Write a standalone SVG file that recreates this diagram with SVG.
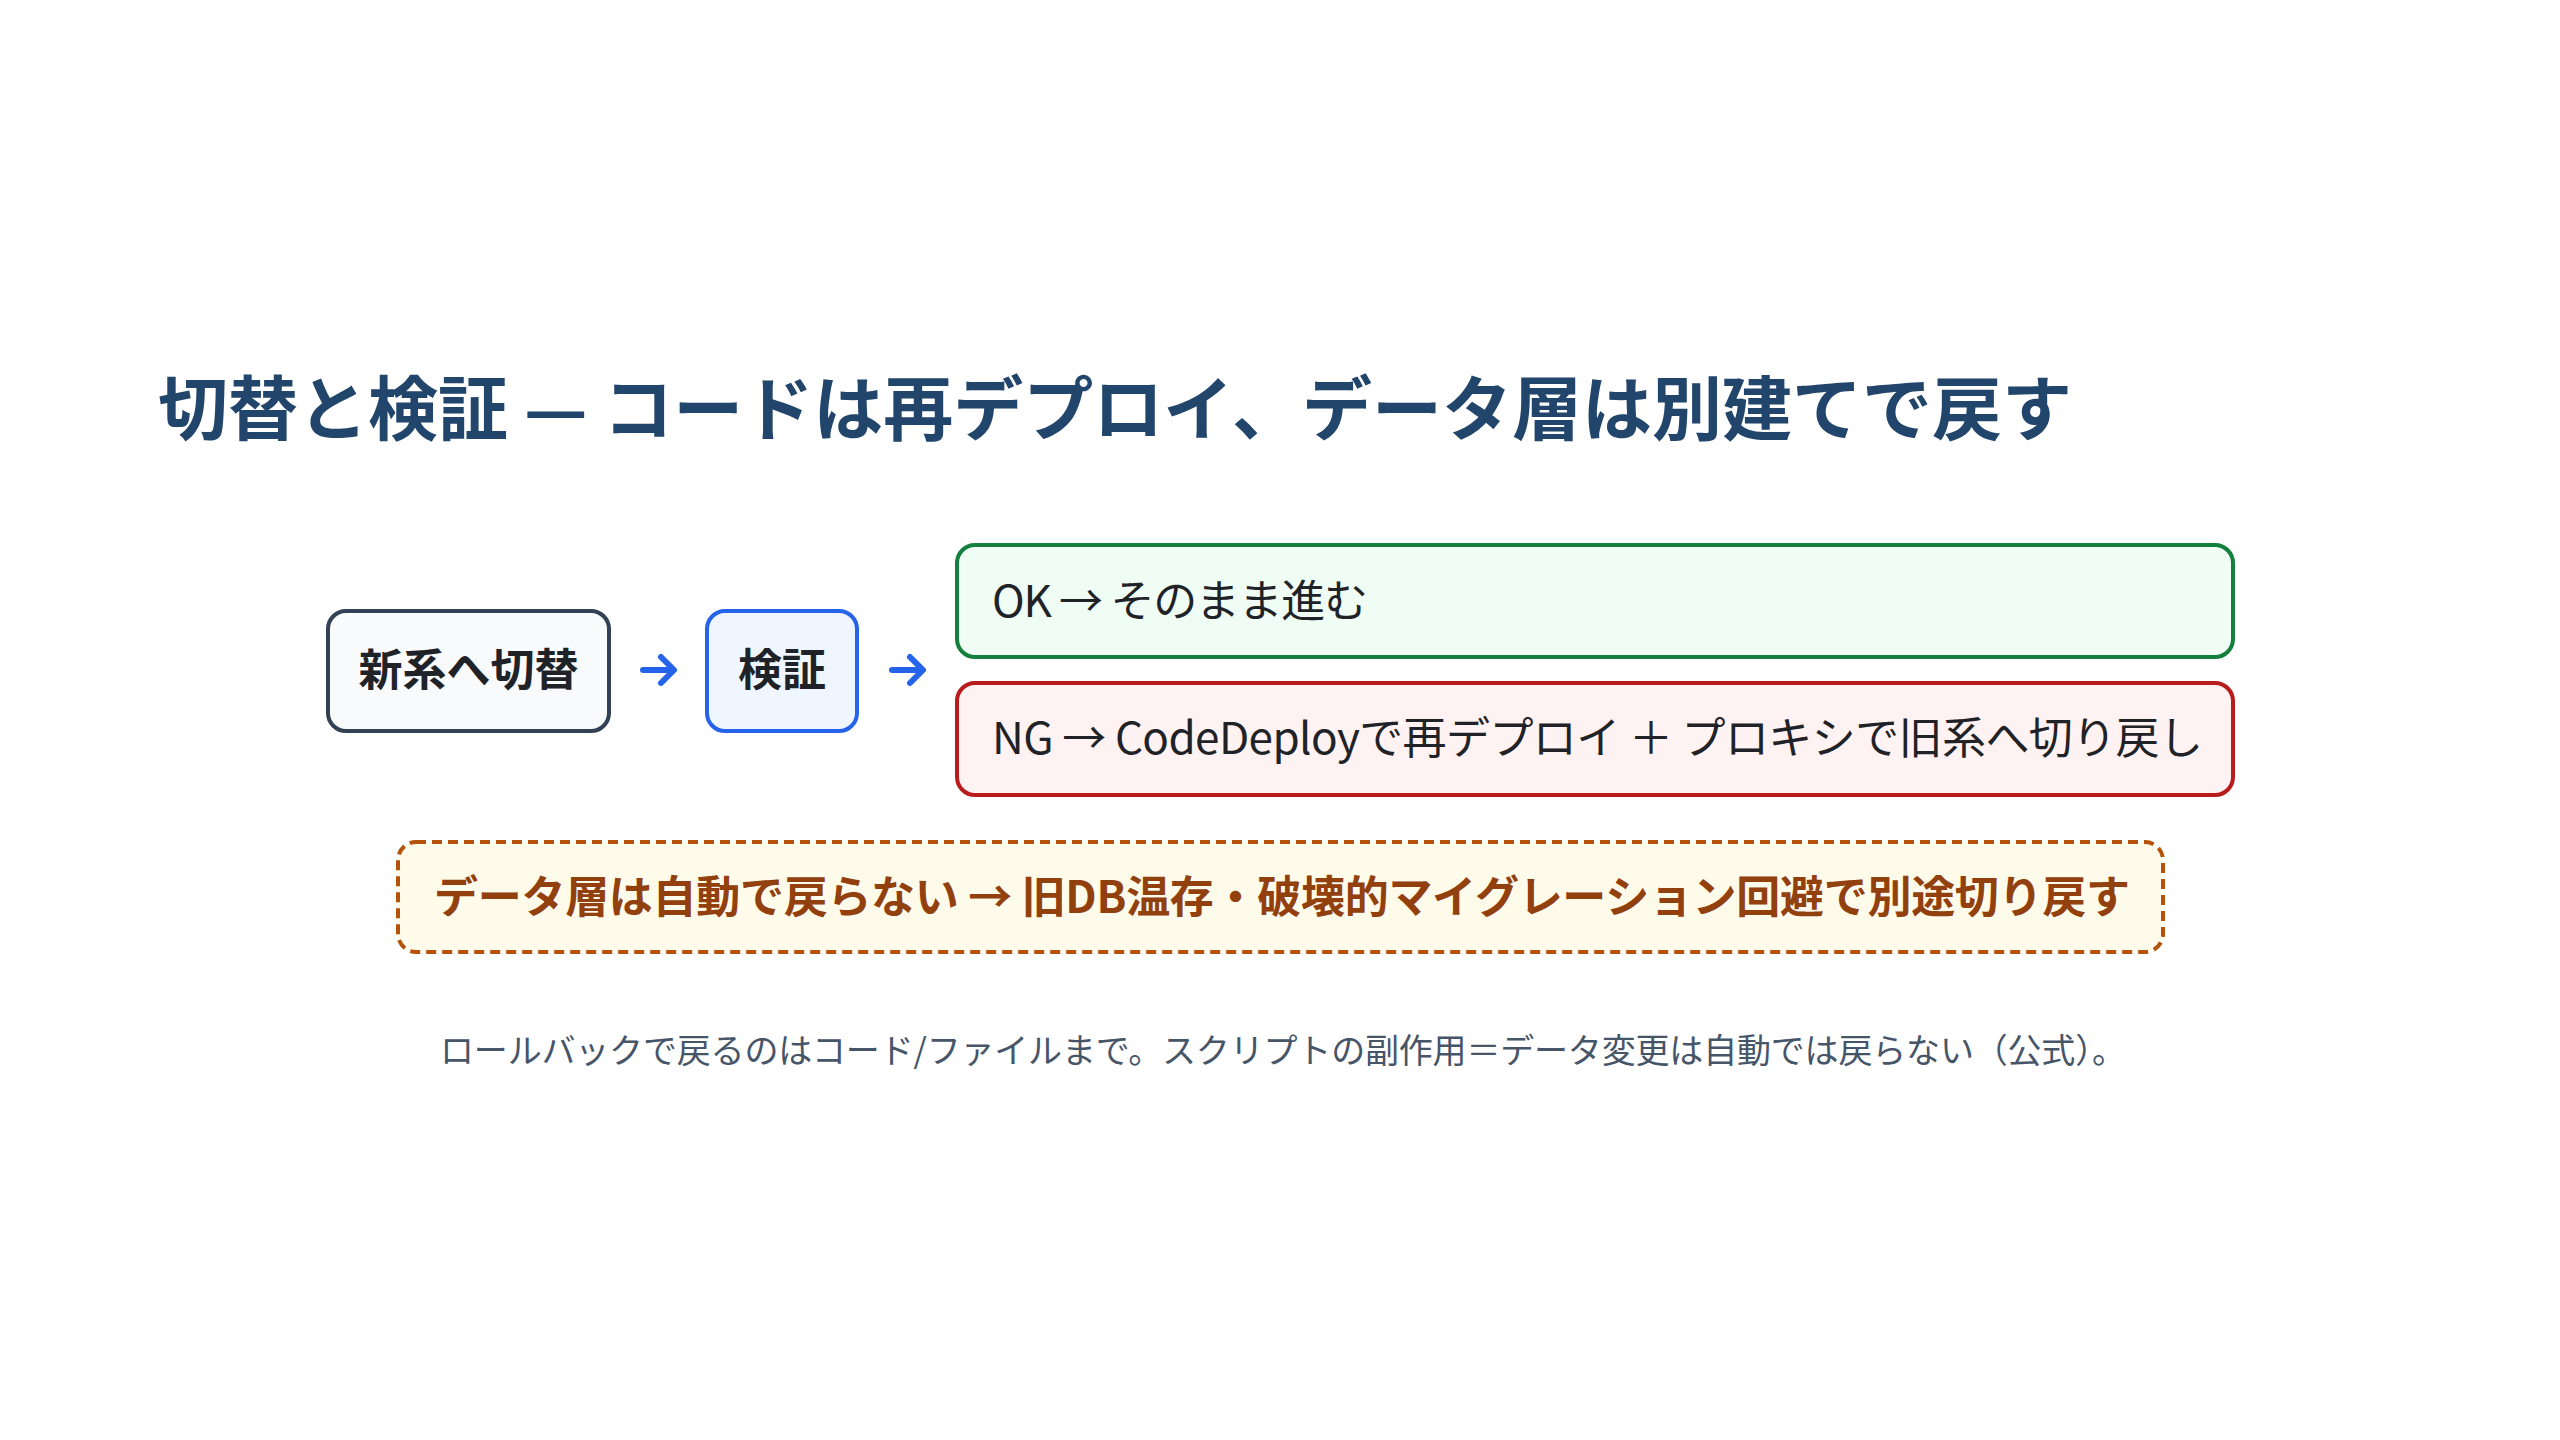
<svg xmlns="http://www.w3.org/2000/svg" width="2560" height="1440" viewBox="0 0 2560 1440">
  <style>
    text { font-family: "Noto Sans CJK JP", "Liberation Sans", sans-serif; }
    .title { font-size: 70px; font-weight: 700; fill: #22456b; }
    .node-label { font-size: 44px; font-weight: 700; fill: #1f2328; text-anchor: middle; }
    .branch-label { font-size: 44px; font-weight: 400; fill: #1f2328; }
    .warn-label { font-size: 44px; font-weight: 700; fill: #92400e; }
    .note { font-size: 34px; fill: #475569; text-anchor: middle; }
    .box { stroke-width: 4; }
    .conn { fill: none; stroke: #2563eb; stroke-width: 6; stroke-linecap: round; stroke-linejoin: round; }
  </style>
  <rect width="2560" height="1440" fill="#ffffff"/>

  <text class="title" x="158" y="435" textLength="1914">切替と検証 — コードは再デプロイ、データ層は別建てで戻す</text>

  <g id="node-switch">
    <rect class="box" x="328" y="611" width="281" height="120" rx="18" fill="#f8fafc" stroke="#334155"/>
    <text class="node-label" x="468.5" y="686">新系へ切替</text>
  </g>

  <g id="node-verify">
    <rect class="box" x="707" y="611" width="150" height="120" rx="18" fill="#eff6ff" stroke="#2563eb"/>
    <text class="node-label" x="782" y="686">検証</text>
  </g>

  <g id="node-ok">
    <rect class="box" x="957" y="545" width="1276" height="112" rx="18" fill="#f0fdf4" stroke="#15803d"/>
    <text class="branch-label" x="992" y="617" textLength="376">OK → そのまま進む</text>
  </g>

  <g id="node-ng">
    <rect class="box" x="957" y="683" width="1276" height="112" rx="18" fill="#fef2f2" stroke="#b91c1c"/>
    <text class="branch-label" x="992" y="754" textLength="1211">NG → CodeDeployで再デプロイ ＋ プロキシで旧系へ切り戻し</text>
  </g>

  <g id="node-data">
    <rect class="box" x="398" y="842" width="1765" height="110" rx="18" fill="#fffbeb" stroke="#b45309" stroke-dasharray="10 6"/>
    <text class="warn-label" x="434" y="913" textLength="1696">データ層は自動で戻らない → 旧DB温存・破壊的マイグレーション回避で別途切り戻す</text>
  </g>

  <g id="connectors">
    <path class="conn" d="M643 670 H673 M661 657 L674 670 L661 683"/>
    <path class="conn" d="M892 670 H922 M910 657 L923 670 L910 683"/>
  </g>

  <text class="note" x="1283" y="1063" textLength="1686">ロールバックで戻るのはコード/ファイルまで。スクリプトの副作用＝データ変更は自動では戻らない（公式）。</text>
</svg>
